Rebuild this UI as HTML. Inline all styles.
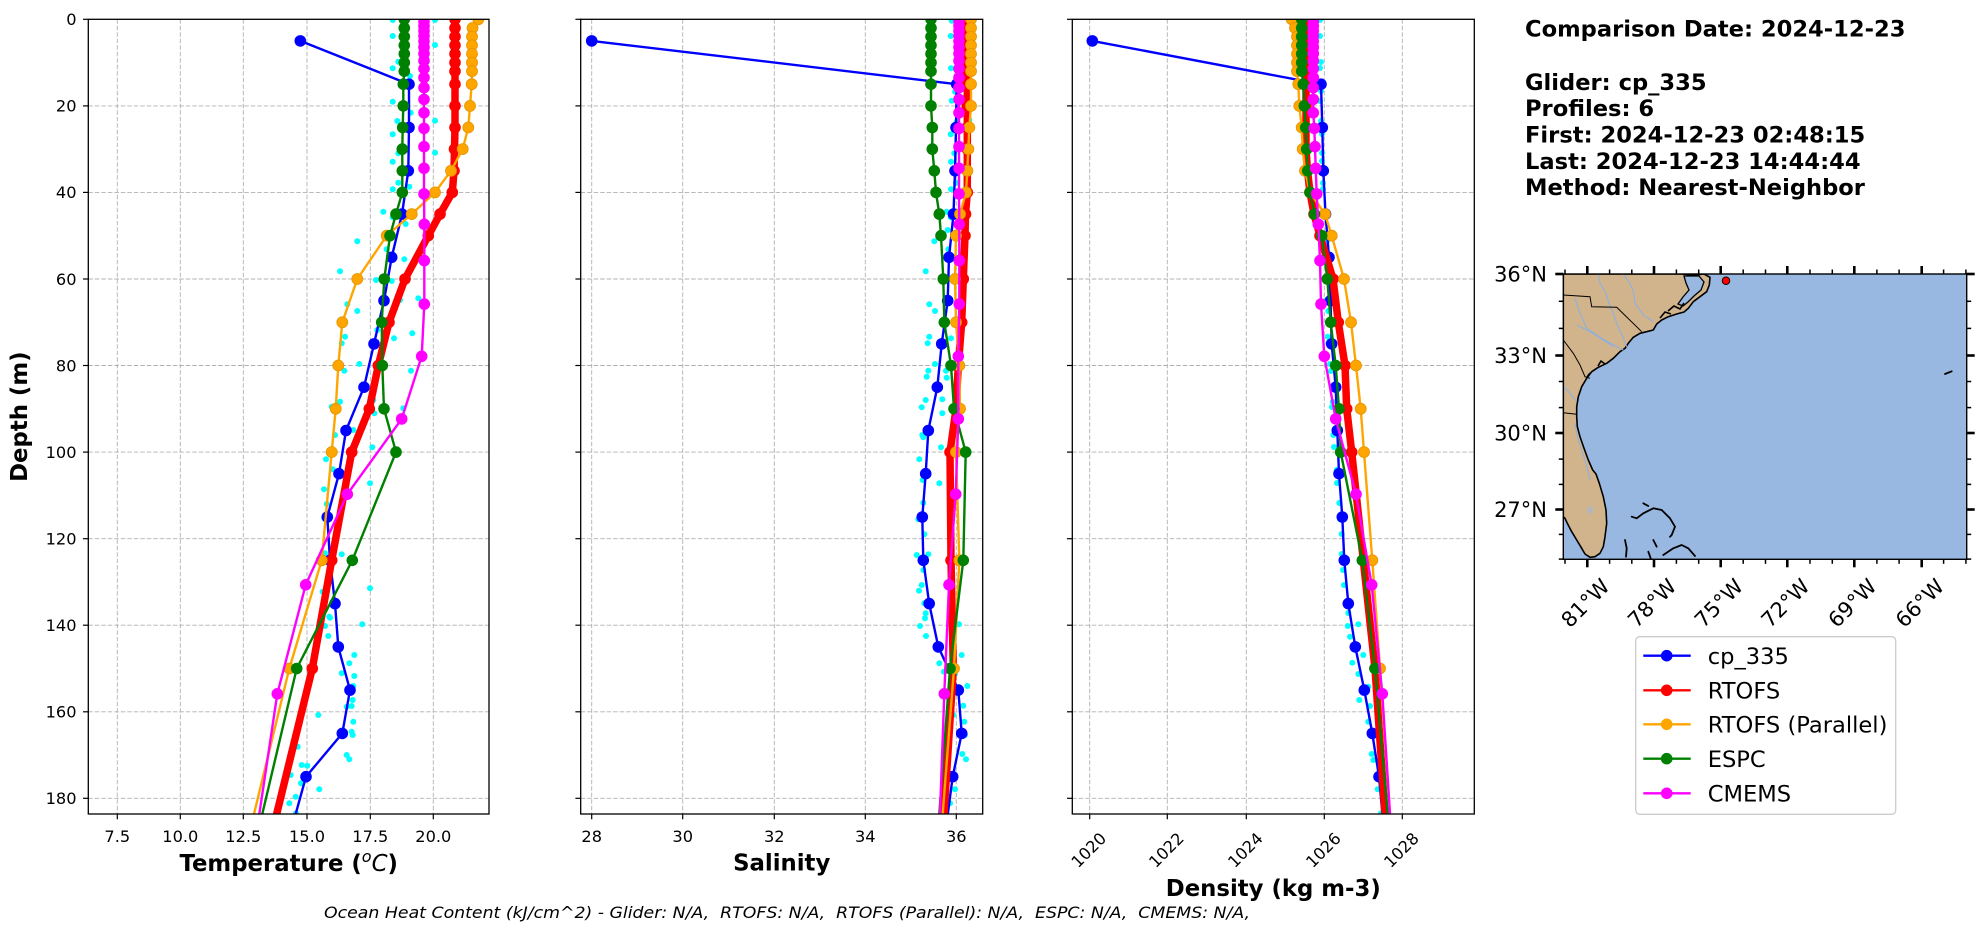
<!DOCTYPE html>
<html><head><meta charset="utf-8"><style>
html,body{margin:0;padding:0;background:#fff;}
svg{display:block;}
text{font-family:"DejaVu Sans","Liberation Sans",sans-serif;fill:#000;}
.tk{font-size:16.2px;}
.lab{font-size:22.8px;font-weight:bold;}
.grid line{stroke:#b0b0b0;stroke-width:0.9;stroke-dasharray:4.5,2;}
.tick line{stroke:#000;stroke-width:1.2;}
</style></head><body>
<svg width="1978" height="934" viewBox="0 0 1978 934" xmlns="http://www.w3.org/2000/svg">
<defs>
<clipPath id="c1"><rect x="88.3" y="19.3" width="400.7" height="794.7"/></clipPath>
<clipPath id="c2"><rect x="580.7" y="19.3" width="402" height="794.7"/></clipPath>
<clipPath id="c3"><rect x="1072.3" y="19.3" width="402" height="794.7"/></clipPath>
<clipPath id="cm"><rect x="1563.3" y="274" width="403.4" height="285.3"/></clipPath>
<marker id="mc" markerUnits="userSpaceOnUse" markerWidth="8" markerHeight="8" refX="4" refY="4" overflow="visible"><circle cx="4" cy="4" r="3" fill="#00ffff"/></marker>
<marker id="mb" markerUnits="userSpaceOnUse" markerWidth="14" markerHeight="14" refX="7" refY="7" overflow="visible"><circle cx="7" cy="7" r="5.8" fill="#0000ff"/></marker>
<marker id="mr" markerUnits="userSpaceOnUse" markerWidth="14" markerHeight="14" refX="7" refY="7" overflow="visible"><circle cx="7" cy="7" r="5.8" fill="#ff0000"/></marker>
<marker id="mo" markerUnits="userSpaceOnUse" markerWidth="14" markerHeight="14" refX="7" refY="7" overflow="visible"><circle cx="7" cy="7" r="5.5" fill="#ffa500" stroke="#e39500" stroke-width="0.8"/></marker>
<marker id="mg" markerUnits="userSpaceOnUse" markerWidth="14" markerHeight="14" refX="7" refY="7" overflow="visible"><circle cx="7" cy="7" r="5.8" fill="#008000"/></marker>
<marker id="mm" markerUnits="userSpaceOnUse" markerWidth="14" markerHeight="14" refX="7" refY="7" overflow="visible"><circle cx="7" cy="7" r="5.8" fill="#ff00ff"/></marker>
</defs>
<rect x="0" y="0" width="1978" height="934" fill="#fff"/>

<!-- ========== GRIDS ========== -->
<g class="grid">
<line x1="117.3" y1="19.3" x2="117.3" y2="814"/><line x1="180.3" y1="19.3" x2="180.3" y2="814"/><line x1="243.3" y1="19.3" x2="243.3" y2="814"/><line x1="307" y1="19.3" x2="307" y2="814"/><line x1="370.3" y1="19.3" x2="370.3" y2="814"/><line x1="433.3" y1="19.3" x2="433.3" y2="814"/>
<line x1="88.3" y1="105.9" x2="489" y2="105.9"/><line x1="88.3" y1="192.4" x2="489" y2="192.4"/><line x1="88.3" y1="279" x2="489" y2="279"/><line x1="88.3" y1="365.5" x2="489" y2="365.5"/><line x1="88.3" y1="452.1" x2="489" y2="452.1"/><line x1="88.3" y1="538.7" x2="489" y2="538.7"/><line x1="88.3" y1="625.2" x2="489" y2="625.2"/><line x1="88.3" y1="711.8" x2="489" y2="711.8"/><line x1="88.3" y1="798.3" x2="489" y2="798.3"/>
<line x1="591.7" y1="19.3" x2="591.7" y2="814"/><line x1="682.7" y1="19.3" x2="682.7" y2="814"/><line x1="774.3" y1="19.3" x2="774.3" y2="814"/><line x1="865.3" y1="19.3" x2="865.3" y2="814"/><line x1="956.3" y1="19.3" x2="956.3" y2="814"/>
<line x1="580.7" y1="105.9" x2="982.7" y2="105.9"/><line x1="580.7" y1="192.4" x2="982.7" y2="192.4"/><line x1="580.7" y1="279" x2="982.7" y2="279"/><line x1="580.7" y1="365.5" x2="982.7" y2="365.5"/><line x1="580.7" y1="452.1" x2="982.7" y2="452.1"/><line x1="580.7" y1="538.7" x2="982.7" y2="538.7"/><line x1="580.7" y1="625.2" x2="982.7" y2="625.2"/><line x1="580.7" y1="711.8" x2="982.7" y2="711.8"/><line x1="580.7" y1="798.3" x2="982.7" y2="798.3"/>
<line x1="1089.7" y1="19.3" x2="1089.7" y2="814"/><line x1="1167.3" y1="19.3" x2="1167.3" y2="814"/><line x1="1246.3" y1="19.3" x2="1246.3" y2="814"/><line x1="1324.3" y1="19.3" x2="1324.3" y2="814"/><line x1="1402.3" y1="19.3" x2="1402.3" y2="814"/>
<line x1="1072.3" y1="105.9" x2="1474.3" y2="105.9"/><line x1="1072.3" y1="192.4" x2="1474.3" y2="192.4"/><line x1="1072.3" y1="279" x2="1474.3" y2="279"/><line x1="1072.3" y1="365.5" x2="1474.3" y2="365.5"/><line x1="1072.3" y1="452.1" x2="1474.3" y2="452.1"/><line x1="1072.3" y1="538.7" x2="1474.3" y2="538.7"/><line x1="1072.3" y1="625.2" x2="1474.3" y2="625.2"/><line x1="1072.3" y1="711.8" x2="1474.3" y2="711.8"/><line x1="1072.3" y1="798.3" x2="1474.3" y2="798.3"/>
</g>

<!-- ========== PANEL 1: TEMPERATURE ========== -->
<g clip-path="url(#c1)" fill="none" stroke-linejoin="round">
<polyline stroke="none" marker-start="url(#mc)" marker-mid="url(#mc)" marker-end="url(#mc)" points="392.7,20 435,20 392.7,36 435,45 392.7,68.3 398.3,61.7 410,76 392.7,101.7 410.7,112.7 435,120.7 392.7,134.3 397.3,121 435,152.7 392.7,161.7 398.3,153.3 398.3,182.7 392.7,189.3 409.3,186.7 383.3,211.7 392.7,217.3 405.7,224 357.3,241.3 386.7,249.3 404.3,259.3 340,271.3 376,280 391.7,281 418.3,298.3 347.3,304.3 357.3,311 400,300 345,336.7 341.7,343.3 394,338.3 412.3,333.3 377.3,330 359.3,364 344.3,370.7 411,370.7 340,401.7 331.7,406.7 374.3,413.3 403.3,408.3 373.3,400 335,435 353.3,430 326,459.3 372.3,447.3 332.7,469.3 324,489.3 370,483.3 326.7,504 324.3,518.3 341.7,554.3 325,553.3 370,588.3 322.7,591.7 329.3,616.7 362.3,624.3 325,626 330,617.7 328.3,636 354.3,655 349.3,663.3 341.7,673.3 354.3,676 353.3,686 352.7,700 346.7,706.7 351.7,706 318.3,715 353.3,721.7 351.7,731.7 352.7,735 297.7,746.7 346.7,755 349.3,759.3 301.7,765 307.3,765.7 290.7,775 301,783.3 319.3,789.3 295.7,796.7 289.3,803.3 296,813.3"/>
<polyline stroke="#0000ff" stroke-width="2.4" marker-start="url(#mb)" marker-mid="url(#mb)" marker-end="url(#mb)" points="300.3,40.9 409,84.2 409,127.5 408.3,170.8 402,214.1 391.7,257.3 384,300.6 374,343.9 364,387.2 346,430.5 339,473.7 327.3,517 330,560.3 335,603.6 338.3,646.9 350,690.1 342.3,733.4 306,776.7 294,820"/>
<polyline stroke="#ff0000" stroke-width="7.5" marker-start="url(#mr)" marker-mid="url(#mr)" marker-end="url(#mr)" points="455,19.3 455,28 455,36.6 455,45.3 455,53.9 455,62.6 455,71.2 455,84.2 455,105.9 455,127.5 454.5,149.1 454,170.8 452.3,192.4 440,214.1 428.3,235.7 405,279 389,322.3 378.3,365.5 369.3,408.8 351.7,452.1 331.7,560.3 312.3,668.5 259.3,884.9"/>
<polyline stroke="#ffa500" stroke-width="2.4" marker-start="url(#mo)" marker-mid="url(#mo)" marker-end="url(#mo)" points="478.3,19.3 472.5,28 472,36.6 472,45.3 472,53.9 472,62.6 472,71.2 471.7,84.2 470,105.9 468.3,127.5 462.7,149.1 451,170.8 435,192.4 411.7,214.1 386.7,235.7 357.3,279 342.3,322.3 338.3,365.5 335.7,408.8 331.7,452.1 321.7,560.3 289.3,668.5 236.8,884.9"/>
<polyline stroke="#008000" stroke-width="2.4" marker-start="url(#mg)" marker-mid="url(#mg)" marker-end="url(#mg)" points="404.3,19.3 404.3,28 404.3,36.6 404.3,45.3 404.3,53.9 404.3,62.6 404.3,71.2 403.3,84.2 403.3,105.9 402.7,127.5 402.3,149.1 402.3,170.8 402.3,192.4 396,214.1 390,235.7 384.3,279 381.7,322.3 382.3,365.5 384,408.8 396,452.1 352.3,560.3 296.7,668.5 245.5,884.9"/>
<polyline stroke="#ff00ff" stroke-width="2.4" marker-start="url(#mm)" marker-mid="url(#mm)" marker-end="url(#mm)" points="424,21.4 424,26 424,30.8 424,35.8 424,41.3 424,47.2 424,53.6 424,60.7 424,68.7 424,77.6 424,87.7 424,99.4 424,112.8 424,128.4 424,146.7 424,168.3 424,193.9 424.3,224.3 424.3,260.6 424.3,304.1 421.7,356.3 401.7,418.9 347.3,494.2 305.7,584.8 277.3,693.8 257.7,824.9"/>
</g>

<!-- ========== PANEL 2: SALINITY ========== -->
<g clip-path="url(#c2)" fill="none" stroke-linejoin="round">
<polyline stroke="none" marker-start="url(#mc)" marker-mid="url(#mc)" marker-end="url(#mc)" points="951.7,20.7 950.7,36 951,68.3 956.7,61.7 951.7,100.7 955,91.7 950.7,134.3 956.7,121.7 969.3,120 951,161.7 954.3,153.3 951,189.3 956,182.7 946.7,211.7 950.7,217.3 947.7,230 934.3,241.3 948.3,249.3 964,260 925.7,271.3 929.3,304.3 935,311 929.3,336.7 927.7,343.3 951,338.3 935,364 928.3,370.7 926.7,376.7 946,370.7 946.7,377.7 925.7,400 921.7,407.3 942.3,399.3 942.3,413.3 922.3,435 923.3,437.3 941,447.3 919.3,459.3 922.7,480 939.3,483.3 923.3,502.7 918.3,519.3 924.3,534.3 916.7,555 928.3,554.3 923.3,570 921.7,585 919,590.7 924.3,603.3 925.7,613.3 925,618.3 920,626 926,636 959,624.3 961.7,655 939.3,663.3 944,671.7 955,674 967.3,686 963.3,705.7 953.3,715 964.3,721.7 965,735 962.3,754 966,759.3 955,789.3 950,803.3"/>
<polyline stroke="#0000ff" stroke-width="2.4" marker-start="url(#mb)" marker-mid="url(#mb)" marker-end="url(#mb)" points="591.7,40.9 956.7,84.2 956,127.5 955,170.8 953.5,214.1 949,257.3 947.7,300.6 941.7,343.9 937.3,387.2 928.3,430.5 925.7,473.7 922.3,517 923.3,560.3 929.2,603.6 938.3,646.9 958.3,690.1 961.7,733.4 952.7,776.7 947,820"/>
<polyline stroke="#ff0000" stroke-width="7.5" marker-start="url(#mr)" marker-mid="url(#mr)" marker-end="url(#mr)" points="967.3,19.3 967.3,28 967.3,36.6 967.3,45.3 967.3,53.9 967.3,62.6 967.3,71.2 967.3,84.2 967.3,105.9 967.3,127.5 967.3,149.1 967.3,170.8 967.3,192.4 965.5,214.1 965,235.7 963.3,279 961.7,322.3 958.3,365.5 956,408.8 950,452.1 951,560.3 953.3,668.5 939.5,884.9"/>
<polyline stroke="#ffa500" stroke-width="2.4" marker-start="url(#mo)" marker-mid="url(#mo)" marker-end="url(#mo)" points="971,19.3 971,28 971,36.6 971,45.3 971,53.9 971,62.6 971,71.2 971,84.2 971,105.9 969.3,127.5 968.3,149.1 967.3,170.8 966,192.4 960,214.1 956,235.7 955,279 956,322.3 959.3,365.5 960,408.8 956,452.1 959.3,560.3 954,668.5 937.2,884.9"/>
<polyline stroke="#008000" stroke-width="2.4" marker-start="url(#mg)" marker-mid="url(#mg)" marker-end="url(#mg)" points="931,19.3 931,28 931,36.6 931,45.3 931,53.9 931,62.6 931,71.2 931,84.2 931,105.9 932.3,127.5 932.3,149.1 934.3,170.8 936,192.4 939.3,214.1 941,235.7 943.3,279 944.3,322.3 951,365.5 954,408.8 965.7,452.1 963.3,560.3 950,668.5 934.1,884.9"/>
<polyline stroke="#ff00ff" stroke-width="2.4" marker-start="url(#mm)" marker-mid="url(#mm)" marker-end="url(#mm)" points="959,21.4 959,26 959,30.8 959,35.8 959,41.3 959,47.2 959,53.6 959,60.7 959,68.7 959,77.6 959,87.7 959,99.4 959,112.8 959,128.4 959,146.7 959,168.3 959,193.9 959.3,224.3 959.3,260.6 959.3,304.1 958.3,356.3 958.3,418.9 955.7,494.2 949,584.8 944.3,693.8 939.6,824.9"/>
</g>

<!-- ========== PANEL 3: DENSITY ========== -->
<g clip-path="url(#c3)" fill="none" stroke-linejoin="round">
<polyline stroke="none" marker-start="url(#mc)" marker-mid="url(#mc)" marker-end="url(#mc)" points="1320,20 1320,36 1321,62 1320,68 1321,91 1320,101 1321,121 1322,134 1322,153 1322,161 1323,183 1323,189 1327,212 1325,217 1327,241 1325,249 1328,260 1326.7,300 1328.3,311 1327.7,336.7 1328.3,343.3 1330,364 1331,371 1332.7,401.7 1332,407 1333.3,435 1334,447 1336.7,470 1337,483 1339.3,503 1340,519 1341.7,534 1341.7,554 1343,570 1344,585 1346,605 1348.3,613 1347.7,626 1358.3,624.3 1350,636.7 1352.3,662.7 1363.3,655 1358.3,674 1368.3,686.7 1359.3,700 1370,706 1368.3,721.7 1371.7,754 1373.3,760 1377.7,789.3 1381,813.3"/>
<polyline stroke="#0000ff" stroke-width="2.4" marker-start="url(#mb)" marker-mid="url(#mb)" marker-end="url(#mb)" points="1092.3,40.9 1321,84.2 1322.3,127.5 1323.3,170.8 1325.5,214.1 1329,257.3 1330.5,300.6 1331.7,343.9 1335.7,387.2 1337.3,430.5 1339,473.7 1342.3,517 1344.3,560.3 1348.3,603.6 1355.3,646.9 1364.3,690.1 1372.3,733.4 1379,776.7 1383,820"/>
<polyline stroke="#ff0000" stroke-width="7.5" marker-start="url(#mr)" marker-mid="url(#mr)" marker-end="url(#mr)" points="1306,19.3 1306,28 1306,36.6 1306,45.3 1306,53.9 1306,62.6 1306,71.2 1306,84.2 1306,105.9 1306,127.5 1306,149.1 1307.5,170.8 1310,192.4 1314,214.1 1320,235.7 1333,279 1338.3,322.3 1345,365.5 1346.7,408.8 1351.7,452.1 1363.3,560.3 1375,668.5 1389.9,884.9"/>
<polyline stroke="#ffa500" stroke-width="2.4" marker-start="url(#mo)" marker-mid="url(#mo)" marker-end="url(#mo)" points="1291.7,19.3 1295,28 1297,36.6 1297,45.3 1297,53.9 1297,62.6 1297,71.2 1298.3,84.2 1299.3,105.9 1301.7,127.5 1302.7,149.1 1305,170.8 1310,192.4 1325,214.1 1331.7,235.7 1344,279 1351,322.3 1356,365.5 1360.7,408.8 1364,452.1 1372.3,560.3 1380,668.5 1394.9,884.9"/>
<polyline stroke="#008000" stroke-width="2.4" marker-start="url(#mg)" marker-mid="url(#mg)" marker-end="url(#mg)" points="1301.7,19.3 1301.7,28 1301.7,36.6 1301.7,45.3 1301.7,53.9 1301.7,62.6 1301.7,71.2 1303.3,84.2 1304.3,105.9 1305.7,127.5 1306.7,149.1 1307.7,170.8 1310,192.4 1314.5,214.1 1321.7,235.7 1327.3,279 1330.7,322.3 1335.7,365.5 1339,408.8 1340.7,452.1 1362.3,560.3 1375,668.5 1393.9,884.9"/>
<polyline stroke="#ff00ff" stroke-width="2.4" marker-start="url(#mm)" marker-mid="url(#mm)" marker-end="url(#mm)" points="1313.3,21.4 1313.3,26 1313.3,30.8 1313.3,35.8 1313.3,41.3 1313.3,47.2 1313.3,53.6 1313.3,60.7 1313.3,68.7 1313.3,77.6 1313.3,87.7 1313.3,99.4 1313.3,112.8 1314.3,128.4 1315,146.7 1315.7,168.3 1316.7,193.9 1318.3,224.3 1320,260.6 1321,304.1 1324.3,356.3 1335.7,418.9 1356,494.2 1371.7,584.8 1382.3,693.8 1390.7,824.9"/>
</g>

<!-- ========== SPINES ========== -->
<g fill="none" stroke="#000" stroke-width="1.3">
<rect x="88.3" y="19.3" width="400.7" height="794.7"/>
<rect x="580.7" y="19.3" width="402" height="794.7"/>
<rect x="1072.3" y="19.3" width="402" height="794.7"/>
</g>

<!-- ========== TICKS ========== -->
<g class="tick">
<line x1="83" y1="19.3" x2="88.3" y2="19.3"/><line x1="83" y1="105.9" x2="88.3" y2="105.9"/><line x1="83" y1="192.4" x2="88.3" y2="192.4"/><line x1="83" y1="279" x2="88.3" y2="279"/><line x1="83" y1="365.5" x2="88.3" y2="365.5"/><line x1="83" y1="452.1" x2="88.3" y2="452.1"/><line x1="83" y1="538.7" x2="88.3" y2="538.7"/><line x1="83" y1="625.2" x2="88.3" y2="625.2"/><line x1="83" y1="711.8" x2="88.3" y2="711.8"/><line x1="83" y1="798.3" x2="88.3" y2="798.3"/>
<line x1="575.4" y1="19.3" x2="580.7" y2="19.3"/><line x1="575.4" y1="105.9" x2="580.7" y2="105.9"/><line x1="575.4" y1="192.4" x2="580.7" y2="192.4"/><line x1="575.4" y1="279" x2="580.7" y2="279"/><line x1="575.4" y1="365.5" x2="580.7" y2="365.5"/><line x1="575.4" y1="452.1" x2="580.7" y2="452.1"/><line x1="575.4" y1="538.7" x2="580.7" y2="538.7"/><line x1="575.4" y1="625.2" x2="580.7" y2="625.2"/><line x1="575.4" y1="711.8" x2="580.7" y2="711.8"/><line x1="575.4" y1="798.3" x2="580.7" y2="798.3"/>
<line x1="1067" y1="19.3" x2="1072.3" y2="19.3"/><line x1="1067" y1="105.9" x2="1072.3" y2="105.9"/><line x1="1067" y1="192.4" x2="1072.3" y2="192.4"/><line x1="1067" y1="279" x2="1072.3" y2="279"/><line x1="1067" y1="365.5" x2="1072.3" y2="365.5"/><line x1="1067" y1="452.1" x2="1072.3" y2="452.1"/><line x1="1067" y1="538.7" x2="1072.3" y2="538.7"/><line x1="1067" y1="625.2" x2="1072.3" y2="625.2"/><line x1="1067" y1="711.8" x2="1072.3" y2="711.8"/><line x1="1067" y1="798.3" x2="1072.3" y2="798.3"/>
<line x1="117.3" y1="814" x2="117.3" y2="819.3"/><line x1="180.3" y1="814" x2="180.3" y2="819.3"/><line x1="243.3" y1="814" x2="243.3" y2="819.3"/><line x1="307" y1="814" x2="307" y2="819.3"/><line x1="370.3" y1="814" x2="370.3" y2="819.3"/><line x1="433.3" y1="814" x2="433.3" y2="819.3"/>
<line x1="591.7" y1="814" x2="591.7" y2="819.3"/><line x1="682.7" y1="814" x2="682.7" y2="819.3"/><line x1="774.3" y1="814" x2="774.3" y2="819.3"/><line x1="865.3" y1="814" x2="865.3" y2="819.3"/><line x1="956.3" y1="814" x2="956.3" y2="819.3"/>
<line x1="1089.7" y1="814" x2="1089.7" y2="819.3"/><line x1="1167.3" y1="814" x2="1167.3" y2="819.3"/><line x1="1246.3" y1="814" x2="1246.3" y2="819.3"/><line x1="1324.3" y1="814" x2="1324.3" y2="819.3"/><line x1="1402.3" y1="814" x2="1402.3" y2="819.3"/>
</g>

<!-- ========== TICK LABELS ========== -->
<g class="tk" text-anchor="end">
<text x="76.5" y="25.1">0</text><text x="76.5" y="111.7">20</text><text x="76.5" y="198.2">40</text><text x="76.5" y="284.8">60</text><text x="76.5" y="371.3">80</text><text x="76.5" y="457.9">100</text><text x="76.5" y="544.5">120</text><text x="76.5" y="631">140</text><text x="76.5" y="717.6">160</text><text x="76.5" y="804.1">180</text>
</g>
<g class="tk" text-anchor="middle">
<text x="117.3" y="842">7.5</text><text x="180.3" y="842">10.0</text><text x="243.3" y="842">12.5</text><text x="307" y="842">15.0</text><text x="370.3" y="842">17.5</text><text x="433.3" y="842">20.0</text>
<text x="591.7" y="842">28</text><text x="682.7" y="842">30</text><text x="774.3" y="842">32</text><text x="865.3" y="842">34</text><text x="956.3" y="842">36</text>
<text x="1088.7" y="850" dy="0.35em" transform="rotate(-45 1088.7 850)">1020</text>
<text x="1166.3" y="850" dy="0.35em" transform="rotate(-45 1166.3 850)">1022</text>
<text x="1245.3" y="850" dy="0.35em" transform="rotate(-45 1245.3 850)">1024</text>
<text x="1323.3" y="850" dy="0.35em" transform="rotate(-45 1323.3 850)">1026</text>
<text x="1401.3" y="850" dy="0.35em" transform="rotate(-45 1401.3 850)">1028</text>
</g>

<!-- ========== AXIS LABELS ========== -->
<text class="lab" x="288.7" y="871" text-anchor="middle">Temperature (<tspan font-weight="normal" font-style="italic" font-size="16px" dy="-9">o</tspan><tspan font-weight="normal" font-style="italic" dy="9">C</tspan>)</text>
<text class="lab" x="781.7" y="870.5" text-anchor="middle">Salinity</text>
<text class="lab" x="1273.3" y="896" text-anchor="middle">Density (kg m-3)</text>
<text class="lab" x="27" y="416.7" text-anchor="middle" transform="rotate(-90 27 416.7)">Depth (m)</text>

<text x="324" y="918" font-size="16.2px" font-style="italic" style="white-space:pre" textLength="926" lengthAdjust="spacingAndGlyphs">Ocean Heat Content (kJ/cm^2) - Glider: N/A,  RTOFS: N/A,  RTOFS (Parallel): N/A,  ESPC: N/A,  CMEMS: N/A,</text>

<!-- ========== INFO TEXT ========== -->
<g font-size="22.6px" font-weight="bold">
<text x="1525" y="36.5">Comparison Date: 2024-12-23</text>
<text x="1525" y="90">Glider: cp_335</text>
<text x="1525" y="116">Profiles: 6</text>
<text x="1525" y="142.5">First: 2024-12-23 02:48:15</text>
<text x="1525" y="169">Last: 2024-12-23 14:44:44</text>
<text x="1525" y="195">Method: Nearest-Neighbor</text>
</g>

<!-- ========== MAP ========== -->
<g clip-path="url(#cm)">
<rect x="1563.3" y="274" width="403.4" height="285.3" fill="#98b7e1"/>
<polygon fill="#d2b48c" stroke="#000" stroke-width="1.6" stroke-linejoin="round" points="1563.3,274 1681.7,274 1693.3,275.3 1704,274 1710,277.3 1709.3,285 1706.7,291.7 1700,296.7 1693.3,301.7 1688.3,308.3 1684,312 1676.7,314 1668.3,316.7 1661.7,320 1656.7,324 1653.3,330 1646.7,331.7 1640,333.3 1633.3,337.3 1628.3,343.3 1625,348.3 1620,351.7 1613.3,358.3 1606.7,363.3 1598.3,367.3 1591.7,371.7 1586.7,378.3 1581.7,386.7 1578.3,396.7 1576.7,406.7 1576.7,416.7 1577.3,426.7 1580,436.7 1584,448.3 1588.3,460 1592.7,470 1596,474 1599.3,483.3 1603.3,496.7 1606,510 1606.7,523.3 1605,536.7 1603.3,546.7 1600,553.3 1595,556.7 1590,557.3 1585,554 1581.7,548.3 1576.7,540 1571.7,531.7 1567.3,523.3 1565,518.3 1563.3,516.7"/>
<polygon fill="#98b7e1" stroke="#000" stroke-width="1.3" points="1684,276 1699,276 1704,282 1701,290 1694,296 1688,302 1683,306 1678,304 1683,297 1689,290 1686,283"/>
<g fill="none" stroke="#000" stroke-width="1.6">
<polyline points="1668,311 1674,306 1680,309 1684,303"/>
<polyline points="1660,318 1665,312 1671,314"/>
<polyline points="1598,366 1601,361 1605,364"/>
<polyline points="1587,377 1590,373"/>
</g>
<g fill="none" stroke="#8eb0df" stroke-width="1.1">
<polyline points="1598.3,274 1600,283.3 1606,293.3 1608.3,301.7 1613.3,313.3 1617.3,325 1623.3,338.3 1626.7,346.7"/>
<polyline points="1623.3,274 1630,283.3 1634,293.3 1635,303.3 1643.3,315 1653.3,321.7"/>
<polyline points="1575,298.3 1580,313.3 1586.7,328.3 1600,337.3 1613.3,345 1623.3,350"/>
<polyline points="1576.7,325 1590,331.7 1603.3,340 1613.3,346.7"/>
<polyline points="1564,386.7 1570,393.3 1576.7,401.7"/>
<polyline points="1575,423.3 1577.3,436.7 1581.7,450 1586,463.3 1590,480"/>
</g>
<g fill="none" stroke="#000" stroke-width="1">
<polyline points="1563.3,295 1590,296.7 1591.7,306.7 1616.7,307.3 1641.7,331.7"/>
<polyline points="1563.3,340 1573.3,353.3 1580,365 1585,376.7 1590,378.3"/>
<polyline points="1563.3,412.7 1576.7,414.3"/>
</g>
<polygon points="1590,505 1594,510 1590,515 1586,510" fill="#b5b5b5"/>
<g fill="none" stroke="#000" stroke-width="1.8" stroke-linecap="round" stroke-linejoin="round">
<polyline points="1631.7,516.7 1636.7,518.3 1643.3,513.3 1653.3,508.3 1661.7,510 1670,518.3 1675,526.7 1671.7,535 1670,536.7"/>
<polyline points="1643.3,503.3 1648.3,506"/>
<polyline points="1625,540 1626.7,548.3 1626,556.7"/>
<polyline points="1648.3,551.7 1650.7,558.3"/>
<polyline points="1663.3,555 1673.3,548.3 1681.7,545 1688.3,548.3 1695,556"/>
<polyline points="1653.3,540 1656.7,546.7"/>
<polyline points="1945,374 1951.7,371.3"/>
</g>
<circle cx="1726" cy="280.7" r="3.8" fill="#ff0000" stroke="#000" stroke-width="0.9"/>
</g>
<rect x="1563.3" y="274" width="403.4" height="285.3" fill="none" stroke="#000" stroke-width="1.4"/>
<g stroke="#000" stroke-width="2.6">
<line x1="1587.3" y1="559.3" x2="1587.3" y2="567.3"/><line x1="1654" y1="559.3" x2="1654" y2="567.3"/><line x1="1720.7" y1="559.3" x2="1720.7" y2="567.3"/><line x1="1787.3" y1="559.3" x2="1787.3" y2="567.3"/><line x1="1854.3" y1="559.3" x2="1854.3" y2="567.3"/><line x1="1921.7" y1="559.3" x2="1921.7" y2="567.3"/>
<line x1="1587.3" y1="274" x2="1587.3" y2="266"/><line x1="1654" y1="274" x2="1654" y2="266"/><line x1="1720.7" y1="274" x2="1720.7" y2="266"/><line x1="1787.3" y1="274" x2="1787.3" y2="266"/><line x1="1854.3" y1="274" x2="1854.3" y2="266"/><line x1="1921.7" y1="274" x2="1921.7" y2="266"/>
<line x1="1555.3" y1="274" x2="1563.3" y2="274"/><line x1="1555.3" y1="355.5" x2="1563.3" y2="355.5"/><line x1="1555.3" y1="433" x2="1563.3" y2="433"/><line x1="1555.3" y1="509.5" x2="1563.3" y2="509.5"/>
<line x1="1966.7" y1="274" x2="1974.7" y2="274"/><line x1="1966.7" y1="355.5" x2="1974.7" y2="355.5"/><line x1="1966.7" y1="433" x2="1974.7" y2="433"/><line x1="1966.7" y1="509.5" x2="1974.7" y2="509.5"/>
</g>
<g stroke="#000" stroke-width="1.5">
<line x1="1565" y1="559.3" x2="1565" y2="563.8"/><line x1="1609.6" y1="559.3" x2="1609.6" y2="563.8"/><line x1="1631.8" y1="559.3" x2="1631.8" y2="563.8"/><line x1="1676.4" y1="559.3" x2="1676.4" y2="563.8"/><line x1="1698.7" y1="559.3" x2="1698.7" y2="563.8"/><line x1="1743.2" y1="559.3" x2="1743.2" y2="563.8"/><line x1="1765.5" y1="559.3" x2="1765.5" y2="563.8"/><line x1="1810" y1="559.3" x2="1810" y2="563.8"/><line x1="1832.3" y1="559.3" x2="1832.3" y2="563.8"/><line x1="1876.9" y1="559.3" x2="1876.9" y2="563.8"/><line x1="1899.1" y1="559.3" x2="1899.1" y2="563.8"/><line x1="1943.6" y1="559.3" x2="1943.6" y2="563.8"/><line x1="1965.9" y1="559.3" x2="1965.9" y2="563.8"/>
<line x1="1565" y1="274" x2="1565" y2="269.5"/><line x1="1609.6" y1="274" x2="1609.6" y2="269.5"/><line x1="1631.8" y1="274" x2="1631.8" y2="269.5"/><line x1="1676.4" y1="274" x2="1676.4" y2="269.5"/><line x1="1698.7" y1="274" x2="1698.7" y2="269.5"/><line x1="1743.2" y1="274" x2="1743.2" y2="269.5"/><line x1="1765.5" y1="274" x2="1765.5" y2="269.5"/><line x1="1810" y1="274" x2="1810" y2="269.5"/><line x1="1832.3" y1="274" x2="1832.3" y2="269.5"/><line x1="1876.9" y1="274" x2="1876.9" y2="269.5"/><line x1="1899.1" y1="274" x2="1899.1" y2="269.5"/><line x1="1943.6" y1="274" x2="1943.6" y2="269.5"/><line x1="1965.9" y1="274" x2="1965.9" y2="269.5"/>
<line x1="1558.8" y1="301.3" x2="1563.3" y2="301.3"/><line x1="1558.8" y1="328.4" x2="1563.3" y2="328.4"/><line x1="1558.8" y1="381.5" x2="1563.3" y2="381.5"/><line x1="1558.8" y1="407.6" x2="1563.3" y2="407.6"/><line x1="1558.8" y1="459.1" x2="1563.3" y2="459.1"/><line x1="1558.8" y1="484.4" x2="1563.3" y2="484.4"/><line x1="1558.8" y1="534.4" x2="1563.3" y2="534.4"/><line x1="1558.8" y1="559.1" x2="1563.3" y2="559.1"/>
<line x1="1966.7" y1="301.3" x2="1971.2" y2="301.3"/><line x1="1966.7" y1="328.4" x2="1971.2" y2="328.4"/><line x1="1966.7" y1="381.5" x2="1971.2" y2="381.5"/><line x1="1966.7" y1="407.6" x2="1971.2" y2="407.6"/><line x1="1966.7" y1="459.1" x2="1971.2" y2="459.1"/><line x1="1966.7" y1="484.4" x2="1971.2" y2="484.4"/><line x1="1966.7" y1="534.4" x2="1971.2" y2="534.4"/><line x1="1966.7" y1="559.1" x2="1971.2" y2="559.1"/>
</g>
<g font-size="21px" text-anchor="end">
<text x="1547" y="281.5">36°N</text>
<text x="1547" y="363">33°N</text>
<text x="1547" y="440.5">30°N</text>
<text x="1547" y="517">27°N</text>
</g>
<g font-size="21px" text-anchor="middle">
<text x="1585.3" y="603" dy="0.35em" transform="rotate(-45 1585.3 603)">81°W</text>
<text x="1652" y="603" dy="0.35em" transform="rotate(-45 1652 603)">78°W</text>
<text x="1718.7" y="603" dy="0.35em" transform="rotate(-45 1718.7 603)">75°W</text>
<text x="1785.3" y="603" dy="0.35em" transform="rotate(-45 1785.3 603)">72°W</text>
<text x="1852.3" y="603" dy="0.35em" transform="rotate(-45 1852.3 603)">69°W</text>
<text x="1919.7" y="603" dy="0.35em" transform="rotate(-45 1919.7 603)">66°W</text>
</g>

<!-- ========== LEGEND ========== -->
<rect x="1635.7" y="636.7" width="260" height="177.6" rx="4" fill="#fff" stroke="#cccccc" stroke-width="1.3"/>
<g stroke-width="2.4">
<line x1="1643.3" y1="655.7" x2="1690.7" y2="655.7" stroke="#0000ff"/><circle cx="1666.7" cy="655.7" r="5.8" fill="#0000ff"/>
<line x1="1643.3" y1="690.3" x2="1690.7" y2="690.3" stroke="#ff0000"/><circle cx="1666.7" cy="690.3" r="5.8" fill="#ff0000"/>
<line x1="1643.3" y1="724.3" x2="1690.7" y2="724.3" stroke="#ffa500"/><circle cx="1666.7" cy="724.3" r="5.8" fill="#ffa500"/>
<line x1="1643.3" y1="758.7" x2="1690.7" y2="758.7" stroke="#008000"/><circle cx="1666.7" cy="758.7" r="5.8" fill="#008000"/>
<line x1="1643.3" y1="793.3" x2="1690.7" y2="793.3" stroke="#ff00ff"/><circle cx="1666.7" cy="793.3" r="5.8" fill="#ff00ff"/>
</g>
<g font-size="22.6px">
<text x="1707.7" y="663.8">cp_335</text>
<text x="1707.7" y="698.4">RTOFS</text>
<text x="1707.7" y="732.4">RTOFS (Parallel)</text>
<text x="1707.7" y="766.8">ESPC</text>
<text x="1707.7" y="801.4">CMEMS</text>
</g>
</svg>
</body></html>
